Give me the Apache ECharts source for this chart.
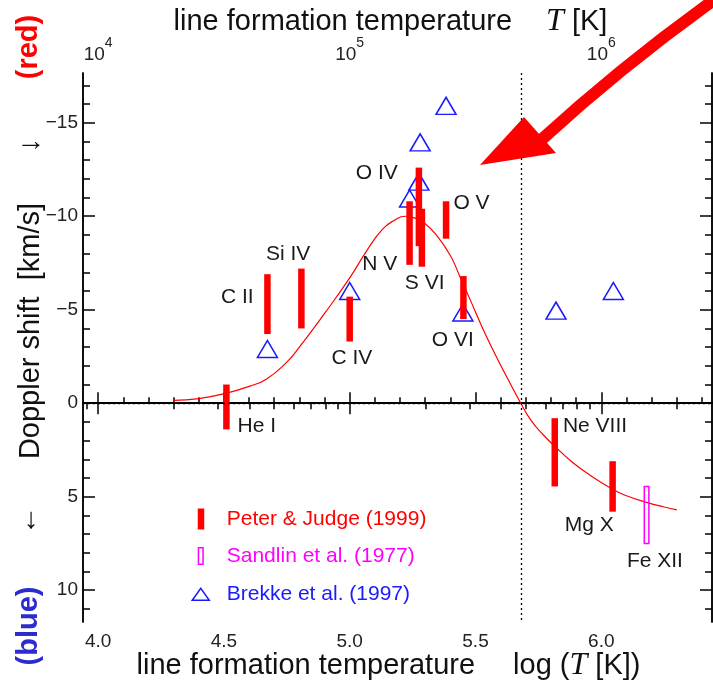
<!DOCTYPE html>
<html>
<head>
<meta charset="utf-8">
<script src="https://cdn.jsdelivr.net/npm/echarts@6/dist/echarts.min.js"></script>
<style>
  html, body { margin: 0; padding: 0; background: #fff; }
  #chart { width: 713px; height: 687px; }
</style>
</head>
<body>
<div id="chart"></div>
<script>
// Peter & Judge (1999) - red bars (log T, shift range)
const pjNames = ['He I', 'C II', 'Si IV', 'C IV', 'N V', 'O IV', 'S VI', 'O V', 'O VI', 'Ne VIII', 'Mg X'];
const pjLogT  = [4.51, 4.673, 4.808, 5.0, 5.238, 5.275, 5.287, 5.383, 5.452, 5.815, 6.045];
const pjTop   = [-1.0, -6.9, -7.2, -5.7, -10.8, -12.6, -10.4, -10.8, -6.8, 0.8, 3.1];
const pjBot   = [1.4, -3.7, -4.0, -3.3, -7.4, -8.4, -7.3, -8.8, -4.5, 4.45, 5.8];

// Sandlin et al. (1977) - magenta open bar
const sdNames = ['Fe XII'];
const sdLogT  = [6.18];
const sdTop   = [4.45];
const sdBot   = [7.5];

// Brekke et al. (1997) - blue open triangles
const bkLogT  = [4.673, 5.0, 5.238, 5.275, 5.28, 5.383, 5.45, 5.82, 6.048];
const bkShift = [-2.9, -6.0, -10.95, -11.85, -13.95, -15.9, -4.85, -4.95, -6.0];

// model curve
const curveLogT  = [4.30, 4.40, 4.50, 4.60, 4.67, 4.75, 4.80, 4.90, 5.00, 5.07, 5.13, 5.18, 5.22, 5.26, 5.30, 5.344, 5.40, 5.437, 5.48, 5.53, 5.59, 5.64, 5.68, 5.72, 5.77, 5.815, 5.88, 5.95, 6.045, 6.10, 6.18, 6.25, 6.30];
const curveShift = [-0.15, -0.25, -0.5, -0.9, -1.3, -2.2, -3.0, -4.8, -6.7, -8.2, -9.3, -9.8, -10.0, -9.9, -9.6, -9.0, -7.9, -6.8, -5.5, -3.96, -2.3, -1.0, 0, 0.9, 1.7, 2.3, 3.1, 3.8, 4.6, 4.95, 5.3, 5.55, 5.7];

// line labels (anchor in data coords)
const lblText = ['He I', 'C II', 'Si IV', 'C IV', 'N V', 'O IV', 'S VI', 'O V', 'O VI', 'Ne VIII', 'Mg X', 'Fe XII'];
const lblLogT = [4.631, 4.553, 4.755, 5.009, 5.119, 5.108, 5.298, 5.484, 5.41, 5.975, 5.952, 6.213];
const lblShift = [1.21, -5.65, -7.98, -2.42, -7.43, -12.3, -6.4, -10.7, -3.39, 1.21, 6.5, 8.47];

const refLogT = 5.68;

// ticks
const xMajor = [4.0, 4.5, 5.0, 5.5, 6.0];
const xMinor = [];
for (let i = 40; i <= 64; i++) { if (i % 5 !== 0) xMinor.push(i / 10); }
const yMajor = [-15, -10, -5, 0, 5, 10];
const yMinor = [];
for (let i = -17; i <= 11; i++) { if (i % 5 !== 0) yMinor.push(i); }
const topMajor = [4, 5, 6];
const topMinor = [];
for (let e = 3; e <= 6; e++) {
  for (let k = 2; k <= 9; k++) {
    const v = Math.log10(k) + e;
    if (v > 3.94 && v < 6.44) topMinor.push(v);
  }
}

const X_MIN = 3.94, X_MAX = 6.44, Y_MIN = -17.66, Y_MAX = 11.7;
const FONT = "'Liberation Sans', Arial, Helvetica, sans-serif";
const SERIF = "'Liberation Serif', 'Times New Roman', serif";
const RED = '#ff0000', MAG = '#ff00ff', BLUE = '#1a1aff';

const chart = echarts.init(document.getElementById('chart'));

const axisLine = { show: true, lineStyle: { color: '#000', width: 1.5 } };
const tickStyle = { color: '#000', width: 1.5 };

function xAx(pos, ticks, len, extra) {
  return Object.assign({
    type: 'value', position: pos, min: X_MIN, max: X_MAX,
    axisLine: axisLine, splitLine: { show: false },
    axisTick: { show: true, inside: true, length: len, customValues: ticks, lineStyle: tickStyle },
    axisLabel: { show: false }
  }, extra || {});
}
function yAx(pos, ticks, len, extra) {
  return Object.assign({
    type: 'value', position: pos, min: Y_MIN, max: Y_MAX, inverse: true,
    axisLine: axisLine, splitLine: { show: false },
    axisTick: { show: true, inside: true, length: len, customValues: ticks, lineStyle: tickStyle },
    axisLabel: { show: false }
  }, extra || {});
}

const option = {
  animation: false,
  backgroundColor: '#fff',
  textStyle: { fontFamily: FONT },
  grid: { left: 83, right: 1, top: 73, bottom: 65, containLabel: false, outerBoundsMode: 'none' },
  xAxis: [
    xAx('bottom', xMajor, 11, {
      axisLabel: {
        show: true, customValues: xMajor, margin: 10, fontSize: 19, color: '#222', fontFamily: FONT,
        formatter: v => v.toFixed(1)
      },
      name: '{a|line formation temperature}{g|}{a|log (}{t|T}{a| [K])}',
      nameLocation: 'middle', nameGap: 28, nameMoveOverlap: false,
      nameTextStyle: {
        padding: [0, 18, 0, 0],
        rich: {
          a: { fontSize: 29, color: '#111', fontFamily: FONT },
          g: { width: 38 },
          t: { fontSize: 32, color: '#111', fontFamily: SERIF, fontStyle: 'italic' }
        }
      }
    }),
    xAx('bottom', xMinor, 6),
    xAx('top', topMajor, 11, {
      axisLabel: {
        show: true, customValues: topMajor, margin: 9, color: '#222',
        formatter: v => '{b|10}{e|' + Math.round(v) + '}',
        rich: {
          b: { fontSize: 19, fontFamily: FONT, color: '#222', verticalAlign: 'bottom', lineHeight: 28 },
          e: { fontSize: 14, fontFamily: FONT, color: '#222', verticalAlign: 'top', lineHeight: 28 }
        }
      },
      name: '{a|line formation temperature}{g|}{t|T}{a| [K]}',
      nameLocation: 'middle', nameGap: 35, nameMoveOverlap: false,
      nameTextStyle: {
        padding: [0, 14, 0, 0],
        rich: {
          a: { fontSize: 29, color: '#111', fontFamily: FONT },
          g: { width: 34 },
          t: { fontSize: 32, color: '#111', fontFamily: SERIF, fontStyle: 'italic' }
        }
      }
    }),
    xAx('top', topMinor, 6)
  ],
  yAxis: [
    yAx('left', yMajor, 12, {
      axisLabel: {
        show: true, customValues: yMajor, margin: 5, fontSize: 19, color: '#222', fontFamily: FONT,
        formatter: v => String(v).replace('-', '\u2212')
      }
    }),
    yAx('left', yMinor, 7),
    yAx('right', yMajor, 12),
    yAx('right', yMinor, 7)
  ],
  legend: {
    orient: 'vertical', left: 184, top: 503,
    itemWidth: 22, itemHeight: 22, itemGap: 14.5,
    selectedMode: false,
    textStyle: { fontSize: 21, fontFamily: FONT, padding: [0, 0, 0, 10] },
    data: [
      { name: 'Peter & Judge (1999)', icon: 'path://M0,0M22,22M8,0.5h6.5v21h-6.5z',
        itemStyle: { color: RED, borderWidth: 0 }, textStyle: { color: RED } },
      { name: 'Sandlin et al. (1977)', icon: 'path://M0,0M22,22M8.7,2.5h4.6v16.5h-4.6z',
        itemStyle: { color: 'rgba(0,0,0,0)', borderColor: MAG, borderWidth: 1.5 }, textStyle: { color: MAG } },
      { name: 'Brekke et al. (1997)', icon: 'path://M0,0M22,22M2.5,17L11,5L19.5,17Z',
        itemStyle: { color: 'rgba(0,0,0,0)', borderColor: BLUE, borderWidth: 1.5 }, textStyle: { color: BLUE } }
    ]
  },
  graphic: [
    { type: 'text', x: 29, y: 47, rotation: Math.PI / 2,
      style: { text: '(red)', fontSize: 29, fontWeight: 'bold', fill: RED, align: 'center', verticalAlign: 'middle', fontFamily: FONT } },
    { type: 'text', x: 31, y: 142,
      style: { text: '\u2192', fontSize: 29, fill: '#111', align: 'center', verticalAlign: 'middle', fontFamily: FONT } },
    { type: 'text', x: 31, y: 331, rotation: Math.PI / 2,
      style: { text: 'Doppler shift  [km/s]', fontSize: 29, fill: '#111', align: 'center', verticalAlign: 'middle', fontFamily: FONT } },
    { type: 'text', x: 31, y: 520,
      style: { text: '\u2193', fontSize: 29, fill: '#111', align: 'center', verticalAlign: 'middle', fontFamily: FONT } },
    { type: 'text', x: 29, y: 626, rotation: Math.PI / 2,
      style: { text: '(blue)', fontSize: 29, fontWeight: 'bold', fill: '#2b2bd0', align: 'center', verticalAlign: 'middle', fontFamily: FONT } },
    // big annotation arrow
    { type: 'bezierCurve', z: 100,
      shape: { x1: 540, y1: 141, cpx1: 622, cpy1: 66, x2: 714, y2: 0 },
      style: { stroke: RED, lineWidth: 12, fill: null } },
    { type: 'polygon', z: 100,
      shape: { points: [[480, 165], [524, 117], [556, 153]] },
      style: { fill: RED } }
  ],
  series: [
    {
      name: 'model', type: 'line', smooth: true, showSymbol: false, z: 2,
      data: curveLogT.map((x, i) => [x, curveShift[i]]),
      lineStyle: { color: RED, width: 1.2 },
      markLine: {
        silent: true, symbol: 'none', label: { show: false },
        lineStyle: { color: '#000', type: [2, 3], width: 1.3 },
        data: [{ yAxis: 0 }, { xAxis: refLogT }]
      }
    },
    {
      name: 'Brekke et al. (1997)', type: 'scatter', z: 3,
      symbol: 'triangle', symbolSize: [20, 17],
      data: bkLogT.map((x, i) => [x, bkShift[i]]),
      itemStyle: { color: 'rgba(0,0,0,0)', borderColor: BLUE, borderWidth: 1.5, opacity: 1 }
    },
    {
      name: 'Peter & Judge (1999)', type: 'custom', z: 4,
      data: pjLogT.map((x, i) => [x, pjTop[i], pjBot[i]]),
      encode: { x: 0, y: [1, 2] },
      itemStyle: { color: RED },
      renderItem: function (params, api) {
        const a = api.coord([api.value(0), api.value(1)]);
        const b = api.coord([api.value(0), api.value(2)]);
        const w = 6.5;
        return { type: 'rect', shape: { x: a[0] - w / 2, y: Math.min(a[1], b[1]), width: w, height: Math.abs(b[1] - a[1]) },
          style: { fill: RED } };
      }
    },
    {
      name: 'Sandlin et al. (1977)', type: 'custom', z: 4,
      data: sdLogT.map((x, i) => [x, sdTop[i], sdBot[i]]),
      encode: { x: 0, y: [1, 2] },
      itemStyle: { color: MAG },
      renderItem: function (params, api) {
        const a = api.coord([api.value(0), api.value(1)]);
        const b = api.coord([api.value(0), api.value(2)]);
        const w = 4.6;
        return { type: 'rect', shape: { x: a[0] - w / 2, y: Math.min(a[1], b[1]), width: w, height: Math.abs(b[1] - a[1]) },
          style: { fill: null, stroke: MAG, lineWidth: 1.5 } };
      }
    },
    {
      name: 'labels', type: 'custom', z: 5, silent: true,
      data: lblLogT.map((x, i) => [x, lblShift[i], i]),
      encode: { x: 0, y: 1 },
      renderItem: function (params, api) {
        const p = api.coord([api.value(0), api.value(1)]);
        return { type: 'text', x: p[0], y: p[1],
          style: { text: lblText[api.value(2)], fontSize: 21, fill: '#1a1a1a', fontFamily: FONT, align: 'center', verticalAlign: 'middle' } };
      }
    }
  ]
};

chart.setOption(option);
</script>
</body>
</html>
